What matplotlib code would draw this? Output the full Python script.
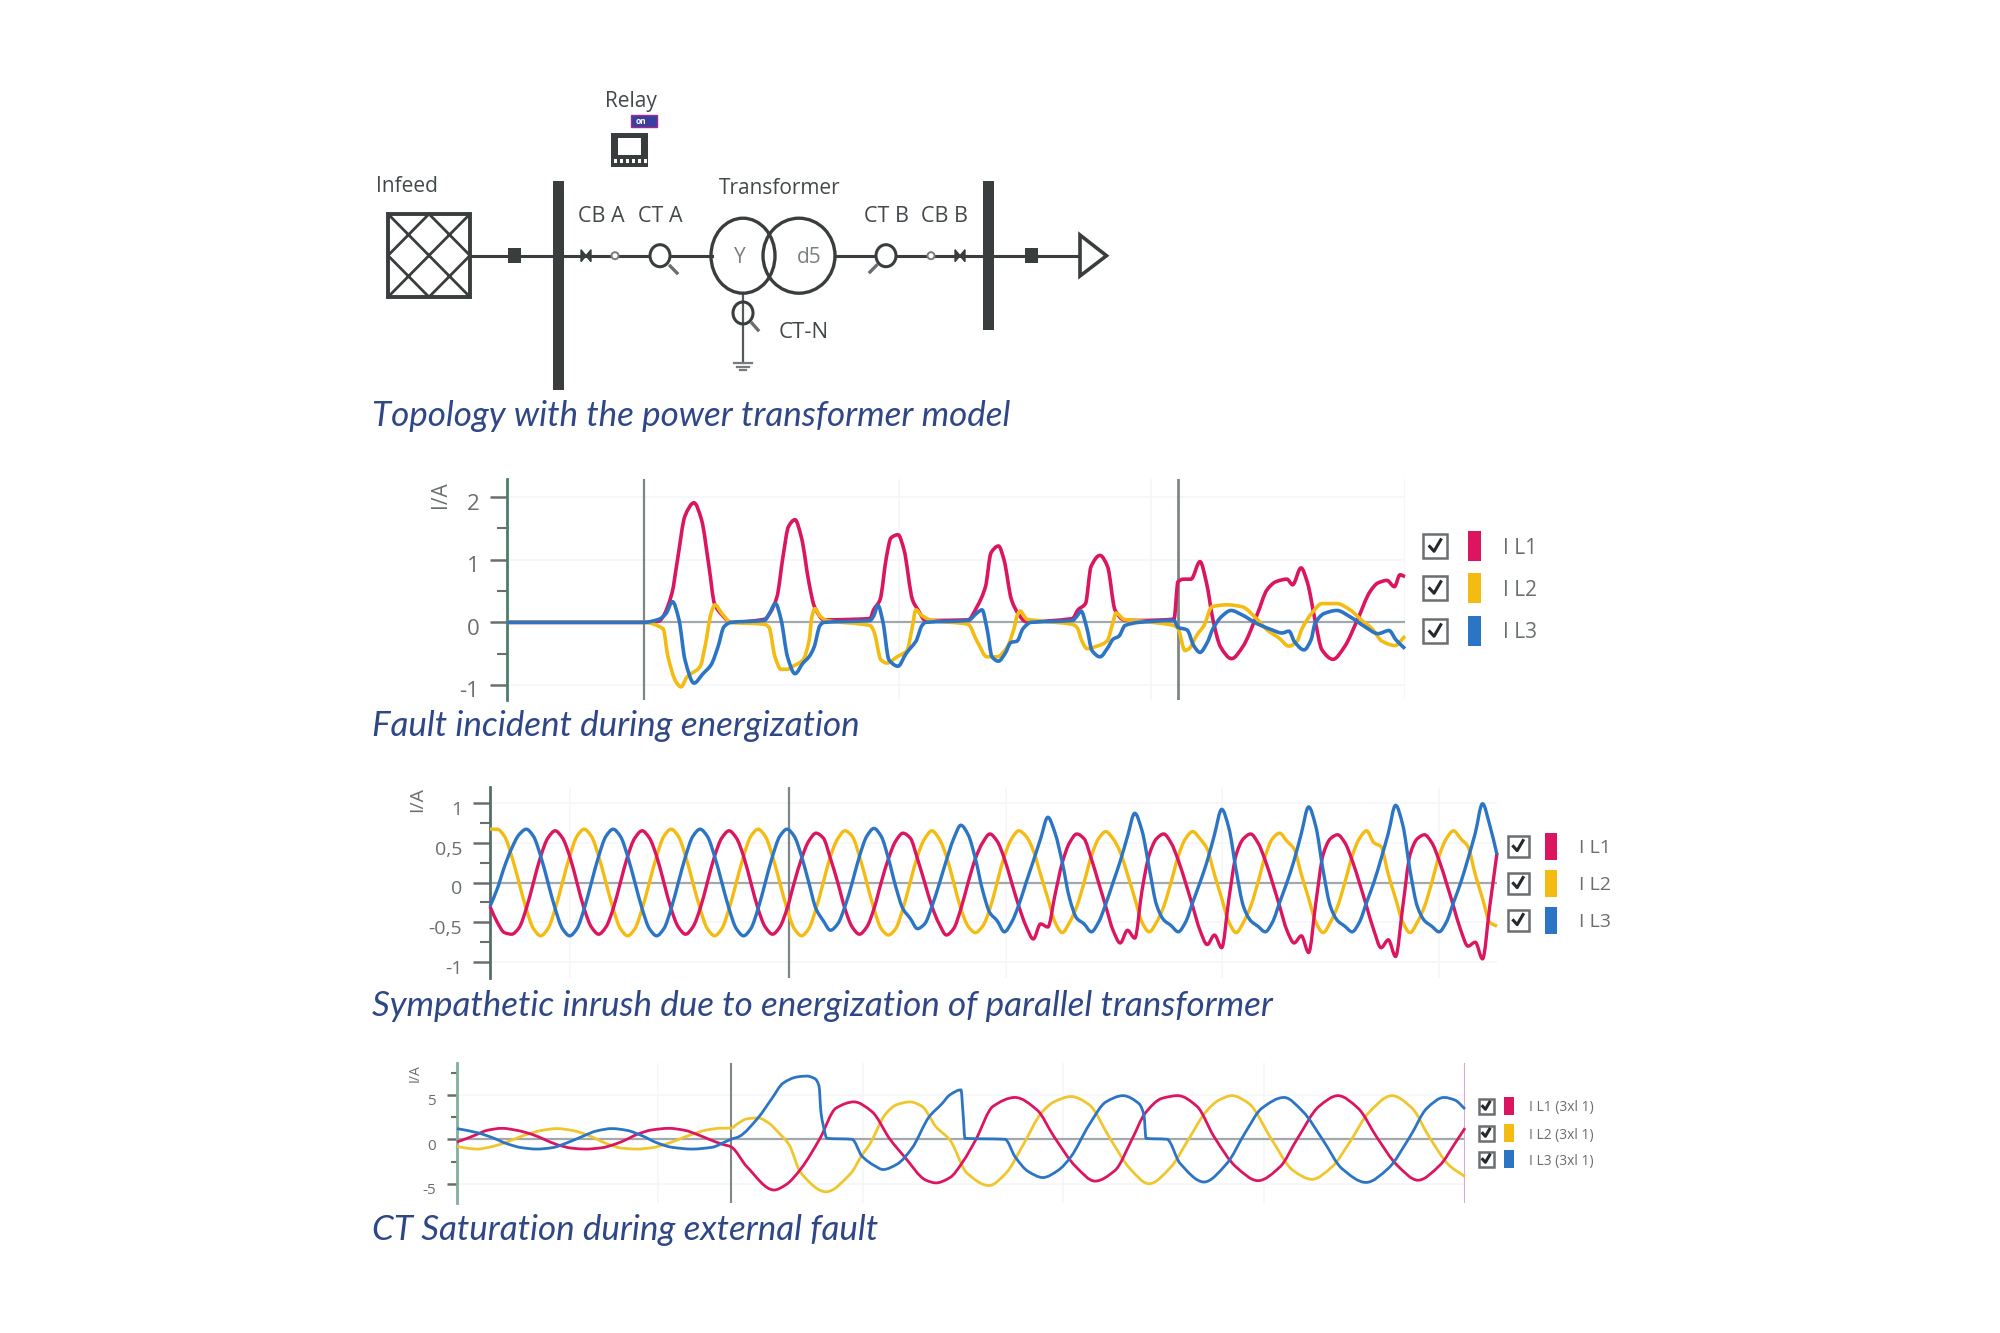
import numpy as np
import matplotlib
matplotlib.use('Agg')
import matplotlib.pyplot as plt
from matplotlib.patches import Rectangle, Ellipse, Polygon, PathPatch
from matplotlib.path import Path

plt.rcParams['font.family'] = ['Open Sans', 'DejaVu Sans']

# 数据：第一张图 (合闸故障)
t1_l1 = [0, 137, 152, 156, 165, 170.5, 178, 187, 194.5, 202, 207.5, 215, 224,
         257.5, 263, 270, 276, 281.5, 288, 294.5, 302, 307.5, 317,
         363, 366.6, 373, 379.5, 384, 391, 397, 405.5, 411, 418.5,
         461, 470, 478.5, 484, 491.5, 497, 504.5, 512, 519,
         565.5, 571, 578.5, 584, 593, 600.6, 608, 617, 632, 667,
         671, 676.5, 684, 693, 699.5, 706, 713.5, 724.6, 735.7, 750.5, 760, 769, 780, 785.6, 794, 800.5,
         808, 815, 826, 837.5, 850.4, 863, 871, 880, 887.4, 893, 898]
y1_l1 = [0, 0, .02, .09, .47, 1.0, 1.7, 1.91, 1.64, .89, .3, .12, 0,
         .05, .15, .41, 1.05, 1.53, 1.64, 1.35, .63, .25, .04,
         .06, .2, .36, 1.05, 1.35, 1.4, 1.16, .36, .2, .03,
         .04, .25, .57, 1.11, 1.22, 1.0, .36, .12, .01,
         .06, .2, .3, .89, 1.07, .89, .2, .04, .03, .05,
         .65, .69, .69, .97, .63, .04, -.39, -.58, -.39, .14, .52, .65, .69, .6, .87, .63,
         .04, -.44, -.59, -.39, .04, .49, .63, .67, .57, .76, .73]
t1_l2 = [0, 137, 156, 161, 169, 174, 180, 193, 198, 204, 208, 215, 224,
         257.5, 262, 268, 274, 280, 286, 296, 302, 305, 308, 313, 320,
         363, 367, 374, 380, 390, 400, 405, 409, 414, 425,
         461, 470, 480, 490, 500, 507, 510, 513, 520, 535,
         565, 570, 575, 580, 590, 600, 606, 609, 617, 640, 667,
         671, 678, 682, 690, 697, 705, 720, 735, 750, 760, 772, 782, 790, 795, 805, 815, 830, 843, 855, 865, 875, 888, 898]
y1_l2 = [0, 0, -.1, -.55, -.95, -1.03, -.87, -.71, -.39, .14, .28, .14, 0,
         -.03, -.08, -.55, -.75, -.75, -.7, -.6, -.3, .1, .22, .1, .03,
         -.05, -.15, -.6, -.65, -.55, -.45, -.1, .2, .12, .03,
         -.03, -.3, -.55, -.55, -.4, -.1, .1, .18, .05, .02,
         -.03, -.08, -.3, -.42, -.38, -.3, 0, .15, .05, .01, -.05,
         -.1, -.45, -.42, -.2, -.05, .25, .28, .25, .05, -.12, -.25, -.38, -.3, -.1, .15, .3, .3, .2, .03, -.1, -.3, -.37, -.22]
t1_l3 = [0, 137, 152, 159, 165.5, 172, 178, 187, 196, 204, 211, 217, 224,
         257.5, 262, 268.5, 274, 280.5, 288, 296, 302, 307, 313, 317,
         363, 366.6, 371, 376, 382, 391, 399, 404, 409, 415, 418.5,
         461, 470, 475, 480, 485, 491.5, 498, 504, 510, 516, 524,
         565.5, 570, 574, 580, 585, 593, 601, 606, 612, 618, 632, 667,
         671, 680, 687, 693, 700, 706, 715, 724, 735, 750, 765, 775, 782, 787.5, 797, 804,
         808, 817, 830, 843, 858, 871, 882, 889, 898]
y1_l3 = [0, 0, .05, .14, .33, .04, -.6, -.97, -.82, -.68, -.39, -.07, 0,
         .03, .13, .3, .05, -.55, -.82, -.65, -.55, -.4, -.05, 0,
         .03, .1, .27, 0, -.6, -.7, -.5, -.4, -.3, -.05, 0,
         .03, .15, .2, -.1, -.55, -.62, -.5, -.32, -.3, -.1, 0,
         .03, .1, .18, -.1, -.45, -.55, -.4, -.27, -.22, -.05, 0, .03,
         -.08, -.12, -.38, -.48, -.33, -.1, .1, .19, .12, -.02, -.12, -.17, -.14, -.31, -.44, -.28,
         -.02, .14, .19, .09, -.07, -.18, -.13, -.28, -.42]

# 第二张图 (励磁涌流)，每个采样间隔 7.25
t2 = np.arange(140) * 7.25
y2_l1 = [-.3, -.5, -.63, -.65, -.57, -.33, 0, .33, .56, .65, .56, .33,
         0, -.33, -.56, -.65, -.56, -.33, 0, .33, .56, .65, .56, .33,
         0, -.33, -.56, -.65, -.56, -.33, 0, .33, .56, .65, .56, .33,
         0, -.33, -.56, -.65, -.56, -.33, 0, .3, .52, .62, .56, .3,
         0, -.33, -.56, -.65, -.56, -.33, 0, .3, .52, .62, .56, .3,
         0, -.3, -.52, -.66, -.58, -.33, 0, .3, .5, .61, .52, .3,
         0, -.3, -.55, -.71, -.52, -.56, -.15, .25, .5, .61, .55, .3,
         0, -.3, -.6, -.76, -.6, -.7, -.1, .35, .55, .61, .5, .28,
         0, -.3, -.6, -.78, -.66, -.82, -.2, .35, .55, .61, .5, .28,
         0, -.3, -.6, -.76, -.67, -.88, -.25, .35, .55, .6, .5, .28,
         0, -.3, -.6, -.82, -.72, -.93, -.3, .35, .55, .6, .5, .28,
         0, -.3, -.6, -.8, -.75, -.96, -.3, .37]
y2_l2 = [.67, .67, .58, .33, 0, -.33, -.58, -.67, -.58, -.33, 0, .33,
         .58, .67, .58, .33, 0, -.33, -.58, -.67, -.58, -.33, 0, .33,
         .58, .67, .58, .33, 0, -.33, -.58, -.67, -.58, -.33, 0, .33,
         .58, .67, .58, .33, 0, -.33, -.58, -.67, -.58, -.33, 0, .33,
         .55, .65, .58, .33, 0, -.33, -.58, -.66, -.58, -.33, 0, .33,
         .55, .65, .55, .33, 0, -.33, -.55, -.63, -.55, -.33, 0, .33,
         .55, .65, .58, .4, .1, -.2, -.5, -.63, -.5, -.3, 0, .33,
         .55, .64, .55, .38, .1, -.2, -.5, -.62, -.5, -.3, 0, .33,
         .55, .64, .55, .42, .1, -.2, -.5, -.63, -.5, -.3, 0, .33,
         .55, .62, .52, .42, .1, -.2, -.5, -.63, -.5, -.3, 0, .33,
         .55, .65, .5, .45, .1, -.2, -.5, -.63, -.5, -.3, 0, .33,
         .55, .65, .55, .45, .1, -.2, -.5, -.55]
y2_l3 = [-.3, -.08, .2, .43, .6, .67, .58, .33, 0, -.33, -.58, -.67,
         -.58, -.33, 0, .33, .58, .67, .58, .33, 0, -.33, -.58, -.67,
         -.58, -.33, 0, .33, .58, .67, .58, .33, 0, -.33, -.58, -.67,
         -.58, -.33, 0, .33, .58, .67, .58, .33, 0, -.33, -.48, -.6,
         -.52, -.3, 0, .33, .58, .68, .58, .3, -.05, -.33, -.45, -.58,
         -.52, -.3, -.02, .28, .55, .72, .6, .3, -.1, -.38, -.48, -.62,
         -.5, -.28, 0, .27, .55, .82, .62, .25, -.2, -.45, -.52, -.62,
         -.5, -.27, 0, .27, .58, .87, .65, .18, -.28, -.47, -.54, -.62,
         -.5, -.25, 0, .27, .6, .92, .68, .15, -.3, -.48, -.55, -.62,
         -.5, -.25, 0, .28, .62, .95, .7, .15, -.3, -.48, -.55, -.62,
         -.5, -.25, 0, .3, .62, .97, .72, .15, -.3, -.48, -.55, -.62,
         -.5, -.25, 0, .3, .62, .99, .72, .35]

# 第三张图 (CT 饱和)
t3_l1 = [0, 10, 20, 30, 45, 60, 75, 87, 100, 115, 129, 145, 158, 170, 180, 195, 212, 228, 240, 252, 265, 274,
         290, 317, 329, 344, 363, 379, 397, 415, 433, 447, 469, 479,
         493, 506, 519, 536, 558, 580, 597, 619, 638, 658, 675, 688, 705, 721, 740, 757, 779, 801, 823,
         840, 862, 881, 901, 920, 940, 961, 983, 998, 1008]
y3_l1 = [-.3, .1, .55, 1.0, 1.23, 1.0, .55, 0, -.6, -1.0, -1.1, -.95, -.55, 0, .55, 1.05, 1.23, 1.0, .55, 0, -.55, -.85,
         -3.1, -5.7, -5.1, -3.3, .1, 3.5, 4.2, 3.1, 0, -1.9, -4.6, -4.9,
         -4.3, -2.5, 0, 3.7, 4.7, 3.3, .3, -3.1, -4.7, -3.5, 0, 2.9, 4.6, 4.9, 3.7, .3, -3.1, -4.65, -3.1,
         0, 3.7, 4.9, 3.5, .2, -2.9, -4.6, -2.9, -.45, 1.25]
t3_l2 = [0, 10, 20, 32, 45, 57, 70, 85, 100, 115, 130, 140, 150, 165, 180, 195, 210, 222, 235, 250, 265, 274,
         280, 290, 301, 312, 322, 332, 344, 369, 394, 404, 413, 429, 440, 453, 465, 479,
         493, 510, 532, 549, 567, 584, 597, 614, 632, 653, 673, 692, 714, 731, 749, 762, 775, 792, 814, 836,
         855, 875, 894, 911, 935, 955, 972, 992, 1008]
y3_l2 = [-.8, -1.0, -1.1, -.9, -.5, 0, .55, 1.0, 1.2, 1.0, .5, 0, -.5, -1.0, -1.1, -.95, -.5, 0, .55, 1.05, 1.25, 1.25,
         1.7, 2.3, 2.4, 1.8, .7, -.6, -3.8, -5.9, -3.8, -1.95, -.5, 2.9, 3.9, 4.2, 3.7, 1.4,
         -.1, -3.8, -5.2, -3.8, -.45, 2.9, 4.2, 4.8, 3.9, .1, -3.3, -5.0, -3.1, -.1, 3.1, 4.4, 4.9, 4.0, .1, -3.5,
         -4.5, -3.1, -.1, 2.9, 4.9, 3.5, .3, -2.9, -4.2]
t3_l3 = [0, 20, 35, 50, 65, 80, 95, 110, 125, 140, 155, 170, 185, 200, 215, 235, 255, 268, 274,
         282, 301, 315, 326, 340, 350, 358, 362, 364, 366, 370, 395, 405, 418, 426, 440, 455, 472, 485, 493, 504,
         506, 508, 548, 558, 571, 586, 601, 614, 632, 649, 666, 682, 687, 689, 710, 723, 747, 770, 788, 805, 827,
         846, 866, 885, 909, 931, 953, 970, 987, 998, 1008]
y3_l3 = [1.2, .75, .2, -.5, -.95, -1.1, -.95, -.4, .3, .95, 1.2, 1.0, .4, -.4, -.9, -1.1, -.9, -.3, 0,
         .3, 2.4, 4.6, 6.3, 7.0, 7.1, 6.8, 6.0, 3, 1.7, .1, 0, -1.9, -3, -3.4, -2.8, -1.0, 2.5, 4, 5.0, 5.55,
         3, .1, 0, -1.95, -3.6, -4.3, -3.5, -1.95, 1.6, 4.2, 4.9, 4.0, 2.7, .1, 0, -2.7, -4.8, -2.7, .7, 3.5, 4.7,
         3.1, -.1, -3.3, -4.85, -3.3, .3, 3.5, 4.7, 4.4, 3.4]

ticks1 = [2, 1, 0, -1]
ticks1_text = ['2', '1', '0', '-1']
minor1 = [1.5, .5, -.5]
ticks2 = [1, .5, 0, -.5, -1]
ticks2_text = ['1', '0,5', '0', '-0,5', '-1']
minor2 = [.75, .25, -.25, -.75]
ticks3 = [5, 0, -5]
ticks3_text = ['5', '0', '-5']
minor3 = [7.5, 2.5, -2.5]

names = ['I L1', 'I L2', 'I L3']
names3 = ['I L1 (3xl 1)', 'I L2 (3xl 1)', 'I L3 (3xl 1)']
titles = ['Topology with the power transformer model', 'Fault incident during energization',
          'Sympathetic inrush due to energization of parallel transformer', 'CT Saturation during external fault']

RED = '#dc1560'
YEL = '#f4bb12'
BLU = '#2c74c4'
GREY = '#6a6e70'
DARK = '#3a3d3e'
TITLE = '#2f4787'

fig = plt.figure(figsize=(20, 13.33), dpi=100)
W, H = fig.get_size_inches() * fig.dpi

# 整张图的像素坐标层，画接线图和图例
bg = fig.add_axes([0, 0, 1, 1])
bg.set_xlim(0, W)
bg.set_ylim(H, 0)
bg.axis('off')


def chart(left, right, top, bottom, ylim, xmax, ticks, labels, minor, vgrid, size, axis_color, ticklen):
    ax = fig.add_axes([left / W, 1 - bottom / H, (right - left) / W, (bottom - top) / H])
    ax.patch.set_alpha(0)
    ax.set_xlim(0, xmax)
    ax.set_ylim(*ylim)
    for s in ['top', 'right', 'bottom']:
        ax.spines[s].set_visible(False)
    ax.spines['left'].set_color(axis_color)
    ax.spines['left'].set_linewidth(2)
    ax.set_xticks([])
    ax.set_yticks(ticks)
    ax.set_yticklabels([])
    ax.set_yticks(minor, minor=True)
    ax.tick_params(axis='y', which='major', length=ticklen, width=1.8, color=GREY)
    ax.tick_params(axis='y', which='minor', length=ticklen * 0.6, width=1.5, color=GREY)
    for v in ticks:
        if v != 0:
            ax.axhline(v, color='#f6f5f7', lw=1.2, zorder=0)
    for v in vgrid:
        ax.axvline(v, color='#f6f6f6', lw=1.2, zorder=0)
    ax.axhline(0, color='#a3a8ac', lw=1.6, zorder=1)
    for v, s in zip(ticks, labels):
        ax.annotate(s, xy=(0, v), xycoords=ax.get_yaxis_transform(), xytext=(-ticklen - 8, -5),
                    textcoords='offset points', ha='right', va='center', fontsize=size, color=GREY)
    return ax


# 读到的点之间用贝塞尔曲线连接，曲线只经过这些点，不增加数据
def wave(ax, t, y, color, lw, z):
    t = np.asarray(t, dtype=float)
    y = np.asarray(y, dtype=float)
    h = np.diff(t)
    s = np.diff(y) / h
    d = np.zeros(len(t))
    for i in range(1, len(t) - 1):
        if s[i - 1] * s[i] > 0:
            d[i] = 2 * s[i - 1] * s[i] / (s[i - 1] + s[i])
    d[0] = s[0]
    d[-1] = s[-1]
    verts = [(t[0], y[0])]
    codes = [Path.MOVETO]
    for i in range(len(h)):
        verts.append((t[i] + h[i] / 3, y[i] + d[i] * h[i] / 3))
        verts.append((t[i + 1] - h[i] / 3, y[i + 1] - d[i + 1] * h[i] / 3))
        verts.append((t[i + 1], y[i + 1]))
        codes += [Path.CURVE4, Path.CURVE4, Path.CURVE4]
    ax.add_patch(PathPatch(Path(verts, codes), fill=False, ec=color, lw=lw, zorder=z, joinstyle='round', clip_on=False))


def legend(xbox, xswatch, xtext, ys, box, sw, sh, size, texts):
    for y, c, s in zip(ys, [RED, YEL, BLU], texts):
        bg.add_patch(Rectangle((xbox - box / 2, y - box / 2), box, box, fc='white', ec='#6b6f72', lw=1.8))
        bg.plot([xbox - box * .22, xbox - box * .04, xbox + box * .24],
                [y + box * .02, y + box * .22, y - box * .26], color='#26292b', lw=2.2)
        bg.add_patch(Rectangle((xswatch - sw / 2, y - sh / 2), sw, sh, fc=c, ec='none'))
        bg.text(xtext, y + 2, s, fontsize=size, color=GREY, va='center', ha='left')


# 图 1
ax1 = chart(507, 1405, 479, 700, (-1.24, 2.29), 898, ticks1, ticks1_text, minor1, [392, 644, 898], 16, '#4d7d68', 12)
ax1.axvline(137, color='#7f8688', lw=1.6, zorder=2)
ax1.axvline(671, color='#7f8688', lw=2, zorder=2)
wave(ax1, t1_l1, y1_l1, RED, 2.6, 3)
wave(ax1, t1_l2, y1_l2, YEL, 2.6, 3)
wave(ax1, t1_l3, y1_l3, BLU, 2.6, 4)
bg.text(441, 495, 'I/A', rotation=90, fontsize=15, color=GREY, ha='center', va='center')
legend(1435, 1474, 1503, [546, 588, 631], 24, 13, 30, 15, names)

# 图 2
ax2 = chart(490, 1497, 787, 978, (-1.2, 1.2), 1007.75, ticks2, ticks2_text, minor2, [80, 516, 733, 950], 14, '#54706a', 12)
ax2.axvline(299, color='#7f8688', lw=1.6, zorder=2)
wave(ax2, t2, y2_l2, YEL, 2.4, 3)
wave(ax2, t2, y2_l1, RED, 2.4, 4)
wave(ax2, t2, y2_l3, BLU, 2.4, 5)
bg.text(417, 800, 'I/A', rotation=90, fontsize=14, color=GREY, ha='center', va='center')
legend(1518, 1551, 1579, [846, 883, 920], 21, 12, 27, 14, names)

# 图 3
ax3 = chart(457, 1465, 1063, 1203, (-7.16, 8.57), 1008, ticks3, ticks3_text, minor3, [201, 406, 606, 807], 11, '#7fb09a', 7)
ax3.axvline(274, color='#7f8688', lw=1.5, zorder=2)
ax3.axvline(1008, color='#d9a9d0', lw=1.5, zorder=2)
wave(ax3, t3_l2, y3_l2, '#efc62e', 2, 3)
wave(ax3, t3_l1, y3_l1, RED, 2, 4)
wave(ax3, t3_l3, y3_l3, BLU, 2, 5)
bg.text(415, 1073, 'I/A', rotation=90, fontsize=10, color=GREY, ha='center', va='center')
legend(1486, 1509, 1529, [1106, 1133, 1159], 15, 10, 18, 10, names3)

# 接线图
bus_y = 255.7
bg.plot([470, 712], [bus_y, bus_y], color=DARK, lw=2.2, zorder=1)
bg.plot([835, 1080], [bus_y, bus_y], color=DARK, lw=2.2, zorder=1)
bg.add_patch(Rectangle((388, 214), 82, 83, fc='white', ec=DARK, lw=2.8))
box_x = [388, 470, None, 470, 388, None, 429, 470, 429, 388, 429]
box_y = [214, 297, None, 214, 297, None, 214, 255.5, 297, 255.5, 214]
bg.plot(box_x, box_y, color=DARK, lw=2)
for x in [514, 1031]:
    bg.add_patch(Rectangle((x - 6.5, bus_y - 7.5), 13, 15, fc=DARK, ec='none', zorder=2))
bg.add_patch(Rectangle((552.5, 181), 11, 209, fc=DARK, ec='none', zorder=2))
bg.add_patch(Rectangle((982.5, 181), 11, 149, fc=DARK, ec='none', zorder=2))
for x in [586, 960]:
    bg.add_patch(Polygon([(x - 5, bus_y - 6), (x + 5, bus_y + 6), (x + 5, bus_y - 6), (x - 5, bus_y + 6)],
                         closed=True, fc=DARK, ec=DARK, lw=1, zorder=2))
for x in [615, 931]:
    bg.add_patch(Ellipse((x, bus_y), 7, 7, fc='white', ec='#777b7d', lw=1.4, zorder=2))
for x, y, tx, ty in [(660, bus_y, 677, 273), (886, bus_y, 870, 272), (743, 313, 758, 330)]:
    bg.add_patch(Ellipse((x, y), 20, 22, fc='white' if x != 743 else 'none', ec=DARK, lw=2.2, zorder=3))
    bg.plot([x + (tx - x) * .6, tx], [y + (ty - y) * .6, ty], color='#6a6e70', lw=2.4, zorder=3)
bg.add_patch(Polygon([(1080, 235), (1106.5, bus_y), (1080, 276)], closed=True, fc='white', ec=DARK, lw=2.6, zorder=3))
bg.add_patch(Ellipse((743, bus_y), 64, 75, fc='none', ec=DARK, lw=2.4, zorder=3))
bg.add_patch(Ellipse((799, bus_y), 72, 75, fc='none', ec=DARK, lw=2.4, zorder=3))
bg.plot([743, 743], [293, 363], color='#55595c', lw=1.6, zorder=1)
for half, y in [(9, 363), (6, 367), (3, 370)]:
    bg.plot([743 - half, 743 + half], [y, y], color='#777b7d', lw=1.6)
# Relay 图标
bg.add_patch(Rectangle((630.5, 115), 26, 12, fc='#3a3f9e', ec='#a02a90', lw=1))
bg.text(641, 121, 'on', fontsize=6, color='white', ha='center', va='center', fontweight='bold')
bg.add_patch(Rectangle((611, 133), 37, 34, fc=DARK, ec='none'))
bg.add_patch(Rectangle((618, 138), 23, 17, fc='white', ec='none'))
for x in [615, 621, 627, 633, 639, 645]:
    bg.add_patch(Rectangle((x - 1.5, 159), 3, 4, fc='white', ec='none'))

for s, x, y, size in [('Relay', 631, 101, 15), ('Infeed', 407, 187, 15), ('Transformer', 780, 188, 15),
                      ('CB A', 601, 217, 15.5), ('CT A', 660, 217, 15.5), ('CT B', 886, 217, 15.5), ('CB B', 944, 217, 15.5),
                      ('CT-N', 804, 332, 16), ('Y', 740, bus_y + 2, 15), ('d5', 809, bus_y + 2, 15)]:
    c = '#7c8082' if s in ['Y', 'd5'] else '#44484a'
    bg.text(x, y, s, fontsize=size, color=c, ha='center', va='center', zorder=4)

# 标题
for s, y in zip(titles, [416, 726, 1006, 1230]):
    bg.text(372, y, s, fontsize=25.2, style='italic', color=TITLE, family='Lato', ha='left', va='center')

fig.savefig('out.png', dpi=100, facecolor='white')
